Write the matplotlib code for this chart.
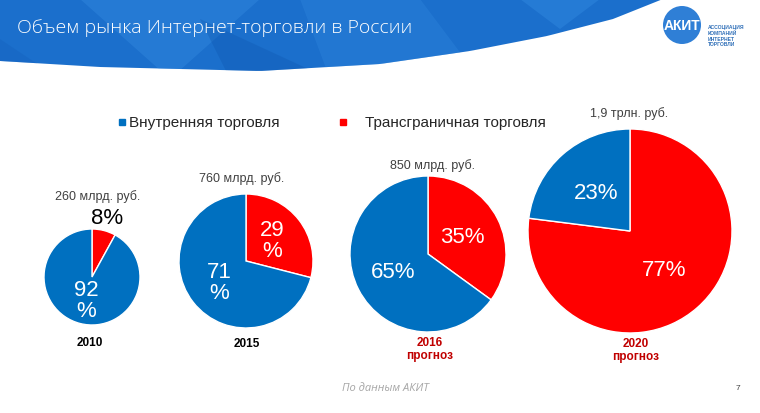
import numpy as np
import matplotlib
matplotlib.use('Agg')
import matplotlib.pyplot as plt
from matplotlib.patches import Polygon, Circle

# data
years = ['2010', '2015', '2016', '2020']
year_notes = ['', '', 'прогноз', 'прогноз']
totals = ['260 млрд. руб.', '760 млрд. руб.', '850 млрд. руб.', '1,9 трлн. руб.']
cross_border = [8, 29, 35, 77]
domestic = [92, 71, 65, 23]
cross_labels = ['8%', '29\n%', '35%', '77%']
domestic_labels = ['92\n%', '71\n%', '65%', '23%']
series_names = ['Внутренняя торговля', 'Трансграничная торговля']

# layout (pixels, y measured from the top)
W, H = 760, 414
centers = [(92, 278), (246, 262), (428, 255), (630, 232)]
radii = [48, 67, 78, 102]
total_pos = [(98, 197), (242, 179), (432, 166), (629, 114)]
year_pos = [(90, 343), (247, 344), (430, 343), (636, 344)]
blue = '#0070C0'
red = '#FF0000'


def Y(y):
    return H - y


plt.rcParams['font.family'] = ['Liberation Sans', 'DejaVu Sans']
fig = plt.figure(figsize=(7.6, 4.14), dpi=100)
ax = fig.add_axes([0, 0, 1, 1])

# header band
cx = [0, 100, 260, 380, 470, 547, 613, 663, 760]
cy = [62, 68, 72, 65, 52, 37, 20, 0, 0]
xs = np.linspace(0, 663, 120)
ys = np.interp(xs, cx, cy)
pts = [(0, Y(0))] + [(x, Y(y)) for x, y in zip(xs, ys)] + [(663, Y(0))]
band = Polygon(pts, closed=True, fc='#1b6fcc', ec='none', zorder=1)
ax.add_patch(band)
# lighter facets, clipped to the band
facets = [
    [(80, 0), (260, 0), (170, 80)],
    [(300, 0), (420, 0), (480, 80), (330, 80)],
    [(200, 20), (330, 80), (230, 80)],
    [(520, 0), (600, 0), (560, 30)],
    [(0, 40), (60, 80), (0, 80)],
]
for f, c in zip(facets, ['#3a90e4', '#3088de', '#0f58b0', '#3a92e6', '#1460bc']):
    p = Polygon([(x, Y(y)) for x, y in f], closed=True, fc=c, ec='none',
                alpha=0.35, zorder=1.5)
    ax.add_patch(p)
    p.set_clip_path(band)
ax.text(17, Y(28), 'Объем рынка Интернет-торговли в России', color='white',
        fontsize=14, fontweight='light', family=['Open Sans', 'DejaVu Sans'],
        va='center', ha='left', zorder=3)

# logo
ax.add_patch(Circle((682, Y(26)), 19, fc='#2f7fd6', ec='none', zorder=3))
ax.text(682, Y(26), 'АКИТ', color='white', fontsize=10, fontweight='bold',
        ha='center', va='center', zorder=4)
ax.text(708, Y(36), 'АССОЦИАЦИЯ\nКОМПАНИЙ\nИНТЕРНЕТ\nТОРГОВЛИ', color='#2f6fb8',
        fontsize=3.6, fontweight='bold', ha='left', va='center', linespacing=1.2, zorder=4)

# legend
ax.plot(122, Y(123), marker='s', ms=5, color=blue, ls='none')
ax.text(129, Y(123), series_names[0], fontsize=11, color='#262626', va='center', ha='left')
ax.plot(343, Y(123), marker='s', ms=5, color=red, ls='none')
ax.text(365, Y(123), series_names[1], fontsize=11, color='#262626', va='center', ha='left')

# pies
for i in range(len(years)):
    c = (centers[i][0], Y(centers[i][1]))
    r = radii[i]
    wedges, _ = ax.pie([cross_border[i], domestic[i]], colors=[red, blue], startangle=90,
                       counterclock=False, center=c, radius=r, frame=True,
                       wedgeprops=dict(edgecolor='white', linewidth=1))
    for w, lab in zip(wedges, [cross_labels[i], domestic_labels[i]]):
        ang = np.deg2rad((w.theta1 + w.theta2) / 2)
        if lab == '8%':
            d, col = 1.29, 'black'
        else:
            d, col = 0.5, 'white'
        ax.text(c[0] + d * r * np.cos(ang), c[1] + d * r * np.sin(ang), lab,
                color=col, fontsize=16, ha='center', va='center', linespacing=1.0, zorder=5)
    ax.text(total_pos[i][0], Y(total_pos[i][1]), totals[i], fontsize=9, color='#404040',
            ha='center', va='center')
    ycol = 'black' if year_notes[i] == '' else '#c00000'
    ax.text(year_pos[i][0], Y(year_pos[i][1]), years[i], fontsize=8.5, fontweight='bold',
            color=ycol, ha='center', va='center')
    if year_notes[i]:
        ax.text(year_pos[i][0], Y(year_pos[i][1] + 13), year_notes[i], fontsize=8.5,
                fontweight='bold', color=ycol, ha='center', va='center')

# footer
ax.text(342, Y(389), 'По данным АКИТ', fontsize=8, style='italic', color='#a6a6a6',
        family=['Open Sans', 'DejaVu Sans'], ha='left', va='center')
ax.text(738, Y(389), '7', fontsize=6, color='#404040', ha='center', va='center')

ax.set_xlim(0, W)
ax.set_ylim(0, H)
ax.set_aspect('auto')
ax.axis('off')
fig.savefig('out.png', dpi=100)
